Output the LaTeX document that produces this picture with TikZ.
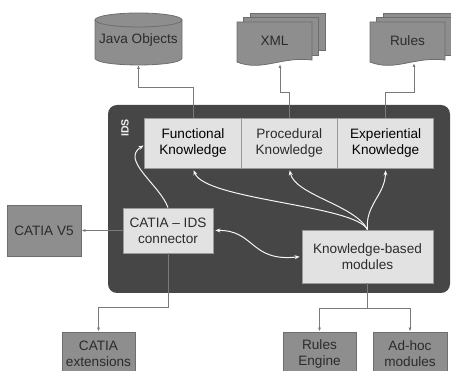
\documentclass[tikz,border=0pt]{standalone}
\usepackage{fontspec}
\setmainfont{Liberation Sans}
\usetikzlibrary{arrows.meta}

\definecolor{idsdark}{HTML}{464646}
\definecolor{boxlight}{HTML}{E2E2E2}
\definecolor{boxgray}{HTML}{8E8E8E}
\definecolor{edgegray}{HTML}{6E6E6E}
\definecolor{linegray}{HTML}{7A7A7A}
\definecolor{inktext}{HTML}{2B2B2B}

\tikzset{
    outbox/.style={draw=edgegray, fill=boxgray, line width=0.8pt, align=center,
        text=inktext, inner sep=0pt},
    knbox/.style={draw=gray!80, fill=boxlight, line width=0.8pt, align=center,
        text=inktext, inner sep=0pt},
    conn/.style={draw=linegray, line width=0.8pt,
        -{Latex[length=4pt,width=3pt]}},
    flow/.style={draw=white!92!gray, line width=1pt,
        -{Stealth[length=5pt,width=4pt]}},
}

\begin{document}
\begin{tikzpicture}[x=1pt, y=-1pt, font=\fontsize{13.6}{16}\selectfont]
    \useasboundingbox (0,0) rectangle (451,371);
    \clip (0,0) rectangle (451,371);

    \fill[idsdark, rounded corners=9pt] (108,105) rectangle (450,293);
    \node[rotate=90, text=white!90!gray,
        font=\bfseries\fontsize{10.5}{12}\selectfont] (ids) at (125,128) {IDS};

    \foreach \nm/\xc/\word/\ink in {func/193/Functional/black,
        proc/289.3/Procedural/inktext, exp/385.6/Experiential/black}
    \node[knbox, text=\ink, minimum width=96.3pt, minimum height=50pt]
        (\nm) at (\xc,143) {\word\\Knowledge};

    \fill[boxgray] (95,20) rectangle (182,58);
    \filldraw[fill=boxgray, draw=edgegray, line width=0.8pt] (95,20) -- (95,58)
        .. controls (95,67.3) and (182,67.3) .. (182,58) -- (182,20);
    \filldraw[fill=boxgray, draw=edgegray, line width=0.8pt]
        (138.5,20) ellipse [x radius=43.5, y radius=7];
    \node[text=inktext] (java) at (138.5,40) {Java Objects};
    \coordinate (javab) at (138.5,65);

    \foreach \nm/\sx/\word in {xml/237/XML, rules/370/Rules} {
        \foreach \k in {2,1}
        \filldraw[fill=boxgray, draw=edgegray, line width=0.8pt]
            (\sx+6.5*\k, 22-4.5*\k) rectangle (\sx+75+6.5*\k, 60-5*\k);
        \filldraw[fill=boxgray, draw=edgegray, line width=0.8pt]
            (\sx,22) -- (\sx+75,22) -- (\sx+75,60)
            .. controls (\sx+45,56) and (\sx+25,72) .. (\sx,62) -- cycle;
        \node[text=inktext] (\nm) at (\sx+37.5,41) {\word};
    }
    \coordinate (xmlb) at (280,64);
    \coordinate (rulesb) at (414,63);

    \node[outbox, minimum width=74pt, minimum height=51pt] (catia)
        at (44,230.5) {CATIA V5};
    \node[knbox, minimum width=90pt, minimum height=45pt] (link)
        at (168,230.5) {CATIA -- IDS\\connector};
    \node[knbox, minimum width=131pt, minimum height=53pt] (kb)
        at (367.5,256.5) {Knowledge-based\\modules};

    \node[outbox, minimum width=73pt, minimum height=44pt] (ext)
        at (98.5,354) {CATIA\\extensions};
    \node[outbox, minimum width=73pt, minimum height=44pt] (engine)
        at (319.5,354) {Rules\\Engine};
    \node[outbox, minimum width=74pt, minimum height=44pt] (adhoc)
        at (410,354) {Ad-hoc\\modules};

    \draw[conn] (func.north) -- ++(0,-30) -| (javab);
    \draw[conn] (proc.north) -- ++(0,-25) -| (xmlb);
    \draw[conn] (exp.north) -- ++(0,-25) -| (rulesb);

    \draw[conn] (link.west) -- (catia.east);
    \draw[conn] (link.south) -- ++(0,54) -| (ext.north);
    \draw[conn] (kb.south) -- ++(0,25) -| (engine.north);
    \draw[conn] (kb.south) -- ++(0,25) -| (adhoc.north);

    \draw[flow, shorten >=1pt] (link.north) .. controls (160,185) and (120,160)
        .. ([yshift=-2pt]func.west);
    \draw[flow, shorten >=2pt] (kb.north) .. controls (355,205) and (205,200)
        .. (func.south);
    \draw[flow, shorten >=2pt] (kb.north) .. controls (355,205) and (295,195)
        .. (proc.south);
    \draw[flow, shorten >=2pt] (kb.north) .. controls (365,205) and (385,195)
        .. (exp.south);
    \draw[flow, {Stealth[length=5pt,width=4pt]}-{Stealth[length=5pt,width=4pt]},
        shorten <=2pt, shorten >=2pt] (link.east) .. controls (255,230)
        and (250,262) .. (kb.west);
\end{tikzpicture}
\end{document}
